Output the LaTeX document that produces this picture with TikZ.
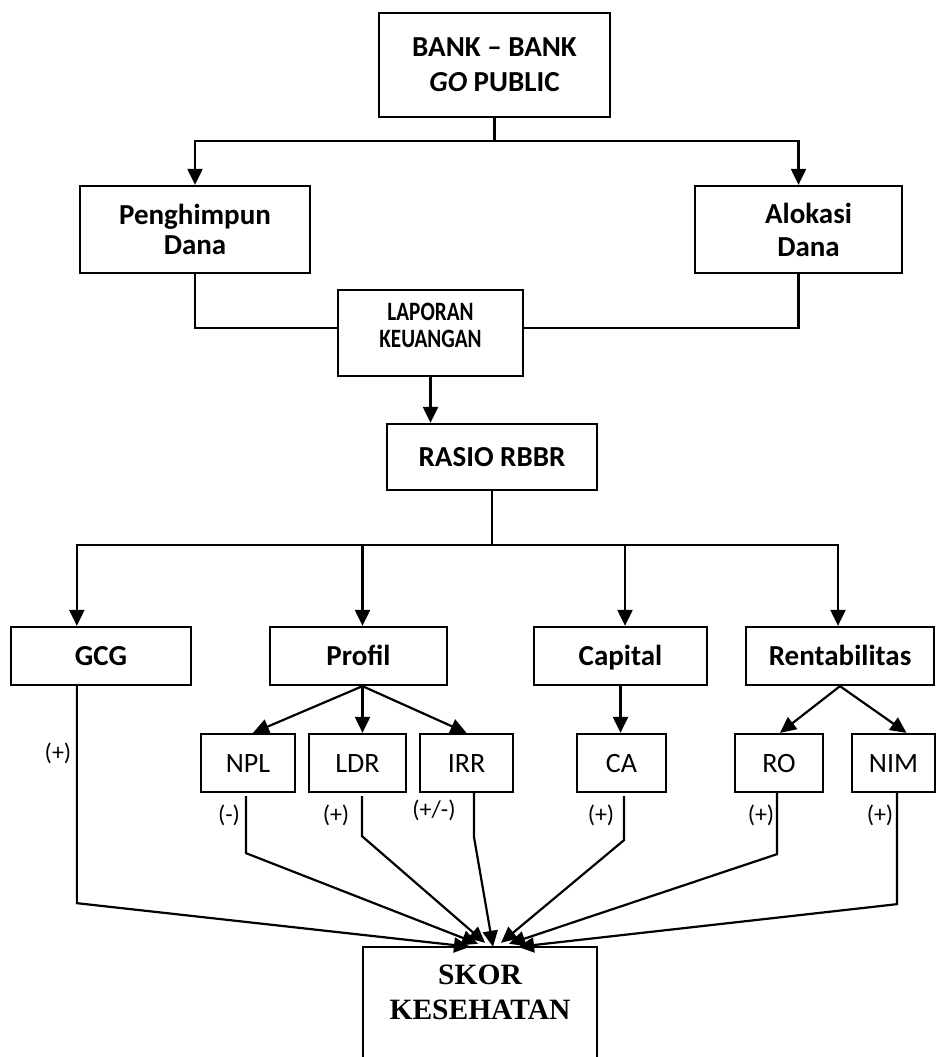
\documentclass[tikz,border=0pt]{standalone}
\usepackage{fontspec}
\setmainfont{Carlito}
\newfontfamily\condfont[FakeStretch=0.8]{Carlito}
\newfontfamily\timesfont{Liberation Serif}
\usetikzlibrary{arrows.meta,calc}
\begin{document}
\begin{tikzpicture}[x=1pt,y=-1pt,
  box/.style={draw,line width=2.3pt,inner sep=0pt,align=center},
  bigtext/.style={font=\fontsize{29}{33}\selectfont\bfseries,text height=19pt,text depth=0pt},
  regtext/.style={font=\fontsize{28}{33}\selectfont,text height=18pt,text depth=-3pt},
  signlabel/.style={font=\fontsize{24}{28}\selectfont,inner sep=0pt},
  conn/.style={line width=2.2pt},
  arr/.style={line width=2.2pt,-{Triangle[length=16pt,width=15pt]}},
]
\useasboundingbox (0,0) rectangle (936,1057);

% top level
\node[box,font=\fontsize{29}{35}\selectfont\bfseries,minimum width=231,minimum height=104] (bank) at (494.5,65) {BANK -- BANK\\\textit{GO} PUBLIC};
\node[box,font=\fontsize{29}{30}\selectfont\bfseries,minimum width=230,minimum height=87] (peng) at (195,229.5) {Penghimpun\\Dana};
\node[box,font=\fontsize{29}{33}\selectfont\bfseries,minimum width=207,minimum height=87] (alok) at (798.5,229.5) {\hspace*{20pt}Alokasi\\\hspace*{20pt}Dana};
\node[box,font=\condfont\bfseries\fontsize{26.5}{27}\selectfont,minimum width=185,minimum height=86] (lap) at (430.5,333) {LAPORAN\\KEUANGAN\\[-12pt]};
\node[box,bigtext,minimum width=210,minimum height=66] (rasio) at (492,457) {RASIO RBBR};

% second level
\node[box,bigtext,minimum width=180,minimum height=58] (gcg) at (101,656) {GCG};
\node[box,bigtext,minimum width=177,minimum height=58] (profil) at (358.5,656) {Profil};
\node[box,bigtext,minimum width=173,minimum height=58] (capital) at (620.5,656) {Capital};
\node[box,bigtext,minimum width=188,minimum height=58] (rent) at (840,656) {Rentabilitas};

% third level
\node[box,regtext,minimum width=94,minimum height=58] (npl) at (248,763) {NPL};
\node[box,regtext,minimum width=97,minimum height=58] (ldr) at (357.5,763) {LDR};
\node[box,regtext,minimum width=93,minimum height=58] (irr) at (466.5,763) {IRR};
\node[box,regtext,minimum width=89,minimum height=58] (ca) at (621.5,763) {CA};
\node[box,regtext,minimum width=88,minimum height=58] (ro) at (779,763) {RO};
\node[box,regtext,minimum width=83,minimum height=58] (nim) at (893.5,763) {NIM};

% bottom box (open at the bottom edge of the picture)
\node[inner sep=0pt,minimum width=234,minimum height=120] (skor) at (480,1007) {};
\draw[line width=1.8pt] (skor.south west) -- (skor.north west) -- (skor.north east) -- (skor.south east);
\node[font=\timesfont\bfseries\fontsize{29.5}{35}\selectfont,align=center,inner sep=0pt] (skortext) at (480,992) {SKOR\\KESEHATAN};

% connectors top
\draw[arr] (bank.south) -- ++(0,23) -| (peng.north);
\draw[arr] (bank.south) -- ++(0,23) -| (alok.north);
\draw[conn] (peng.south) |- ($(lap.west)+(0,-5)$);
\draw[conn] (alok.south) |- ($(lap.east)+(0,-5)$);
\draw[arr] (lap.south) -- (lap.south |- rasio.north);

\coordinate (hub) at ($(rasio.south)+(0,54)$);
\draw[arr] (rasio.south) -- (hub) -| ($(gcg.north west)+(67,0)$);
\draw[arr] (hub) -| ($(profil.north)+(4,0)$);
\draw[arr] (hub) -| ($(capital.north)+(4.5,0)$);
\draw[arr] (hub) -| ($(rent.north)+(-2,0)$);

% second to third
\coordinate (pb) at ($(profil.south)+(4,0)$);
\draw[arr] (pb) -- ($(npl.north)+(5,0)$);
\draw[arr] (pb) -- (pb |- ldr.north);
\draw[arr] (pb) -- (irr.north);
\draw[arr] (capital.south) -- (capital.south |- ca.north);
\draw[arr] (rent.south) -- ($(ro.north)+(1,0)$);
\draw[arr] (rent.south) -- ($(nim.north)+(13,0)$);

% convergence on the score box
\coordinate (t1) at ($(skor.north)+(-10,0)$);
\coordinate (t2) at ($(skor.north)+(-2,-3)$);
\coordinate (t3) at ($(skor.north)+(5,-4)$);
\coordinate (t4) at ($(skor.north)+(13,0)$);
\coordinate (t5) at ($(skor.north)+(21,-4)$);
\coordinate (t6) at ($(skor.north)+(29,-3)$);
\coordinate (t7) at ($(skor.north)+(38,0)$);
\draw[arr] ($(gcg.south west)+(67,0)$) -- ++(0,217) -- (t1);
\draw[arr] ($(npl.south)+(-2,3)$) -- ++(0,57) -- (t2);
\draw[arr] ($(ldr.south)+(4.5,3)$) -- ++(0,40) -- (t3);
\draw[arr] ($(irr.south)+(7.5,0)$) -- ++(0,44) -- (t4);
\draw[arr] ($(ca.south)+(2.5,3)$) -- ++(0,44) -- (t5);
\draw[arr] ($(ro.south)+(-2,0)$) -- ++(0,61) -- (t6);
\draw[arr] ($(nim.south)+(3.5,0)$) -- ++(0,111) -- (t7);

% sign labels
\node[signlabel] (sg) at (58,753) {(+)};
\node[signlabel] (snpl) at (229,815) {(-)};
\node[signlabel] (sldr) at (336,815) {(+)};
\node[signlabel] (sirr) at (434,810) {(+/-)};
\node[signlabel] (sca) at (601,815) {(+)};
\node[signlabel] (sro) at (761,815) {(+)};
\node[signlabel] (snim) at (880,815) {(+)};
\end{tikzpicture}
\end{document}
